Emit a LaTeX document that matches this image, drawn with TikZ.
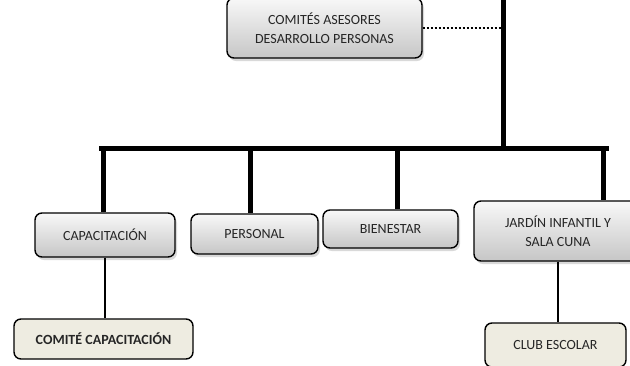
\documentclass[tikz,border=0pt]{standalone}
\usepackage{fontspec}
\setmainfont{Carlito}
\usetikzlibrary{shadows,positioning}
\definecolor{boxtop}{HTML}{F8F8F8}
\definecolor{boxbot}{HTML}{C6C6C6}
\definecolor{paper}{HTML}{EEECE1}
\definecolor{ink}{HTML}{262626}

\begin{document}
\begin{tikzpicture} [x=1pt,y=-1pt,
  unit/.style={draw,line width=1.4pt,rounded corners=7pt,top color=boxtop,bottom color=boxbot,
    drop shadow={shadow xshift=2pt,shadow yshift=-3pt,opacity=0.3},text=ink,
    align=center,inner sep=0pt,font=\fontsize{14}{18.5}\selectfont},
  sub/.style={draw,line width=1.4pt,rounded corners=7pt,fill=paper,text=ink,
    inner sep=0pt,font=\fontsize{14}{18.5}\selectfont},
  trunk/.style={line width=5pt},
  link/.style={line width=1.3pt}]
  \useasboundingbox (0,0) rectangle (630,365);

  \node[unit,minimum width=195pt,minimum height=60pt] (comites) at (324.5,28) {COMITÉS ASESORES\\DESARROLLO PERSONAS};
  \node[unit,minimum width=140pt,minimum height=44pt] (capa) at (105,235) {CAPACITACIÓN};
  \node[unit,minimum width=127pt,minimum height=40pt] (pers) at (254.5,234) {PERSONAL};
  \node[unit,minimum width=135pt,minimum height=38pt] (bien) at (390.5,229) {BIENESTAR};
  \node[unit,minimum width=168pt,minimum height=60pt] (jardin) at (558,231) {JARDÍN INFANTIL Y\\SALA CUNA};
  \node[sub,minimum width=179pt,minimum height=40pt,font=\fontsize{14}{16}\selectfont\bfseries] (comcap) at (103.5,339) {COMITÉ CAPACITACIÓN};
  \node[sub,minimum width=141pt,minimum height=44pt] (club) at (555.5,345) {CLUB ESCOLAR};

  \coordinate (top) at (503,-5);
  \coordinate (hub) at (503,148);
  \coordinate (d1) at (103.5,148);
  \coordinate (d2) at (250,148);
  \coordinate (d3) at (397,148);
  \coordinate (d4) at (603.5,148);

  \draw[trunk] (top) -- (hub);
  \draw[trunk] (99,148) -- (609,148);
  \draw[trunk] (d1) -- (d1 |- capa.north);
  \draw[trunk] (d2) -- (d2 |- pers.north);
  \draw[trunk] (d3) -- (d3 |- bien.north);
  \draw[trunk] (d4) -- (d4 |- jardin.north);
  \draw[line width=2pt,dash pattern=on 2pt off 2pt] (comites.east) -- (comites.east -| hub);
  \draw[link] (capa.south) -- (capa.south |- comcap.north);
  \draw[link] (jardin.south) -- (jardin.south |- club.north);
\end{tikzpicture}
\end{document}
